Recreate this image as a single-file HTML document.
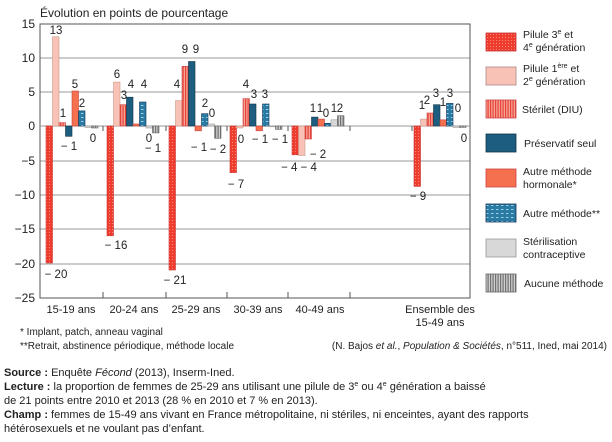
<!DOCTYPE html>
<html><head><meta charset="utf-8"><style>
body{margin:0;background:#fff;width:612px;height:437px;overflow:hidden}
svg{font-family:"Liberation Sans",sans-serif}
.t{font-size:11px;fill:#222}
.l{font-size:11.5px;fill:#222;text-anchor:middle}
</style></head><body>
<svg width="612" height="437" viewBox="0 0 612 437">
<defs>
<pattern id="red" width="3" height="3" patternUnits="userSpaceOnUse"><rect width="3" height="3" fill="#ee3d2e"/><rect x="1" y="1" width="1" height="1" fill="#f98a78"/></pattern>
<pattern id="diu" width="2.5" height="3" patternUnits="userSpaceOnUse"><rect width="2.5" height="3" fill="#f5a494"/><rect width="1.2" height="3" fill="#e8423a"/></pattern>
<pattern id="bdot" width="5" height="4" patternUnits="userSpaceOnUse"><rect width="5" height="4" fill="#2a7ba3"/><rect x="1" y="1" width="2.5" height="1" fill="#9ed0e6"/></pattern>
<pattern id="grey" width="2.5" height="3" patternUnits="userSpaceOnUse"><rect width="2.5" height="3" fill="#d0d0d0"/><rect width="1.2" height="3" fill="#707070"/></pattern>
</defs>
<text x="40" y="17" class="t" style="font-size:12px">Évolution en points de pourcentage</text>
<g stroke="#999" stroke-width="1">
<line x1="40" y1="24" x2="470" y2="24"/><line x1="40" y1="58" x2="470" y2="58"/><line x1="40" y1="92" x2="470" y2="92"/>
<line x1="40" y1="161" x2="470" y2="161"/><line x1="40" y1="195" x2="470" y2="195"/><line x1="40" y1="229" x2="470" y2="229"/><line x1="40" y1="264" x2="470" y2="264"/>
</g>
<g stroke="#555" stroke-width="1" fill="none">
<rect x="40" y="24" width="430" height="274"/>
<line x1="40" y1="126" x2="470" y2="126" stroke="#999"/>
<line x1="103" y1="126" x2="103" y2="131"/><line x1="166" y1="126" x2="166" y2="131"/><line x1="227" y1="126" x2="227" y2="131"/><line x1="288" y1="126" x2="288" y2="131"/><line x1="350" y1="126" x2="350" y2="131"/><line x1="412" y1="126" x2="412" y2="131"/>
<line x1="103" y1="292" x2="103" y2="298"/><line x1="166" y1="292" x2="166" y2="298"/><line x1="227" y1="292" x2="227" y2="298"/><line x1="288" y1="292" x2="288" y2="298"/><line x1="350" y1="292" x2="350" y2="298"/>
</g>
<g class="t" text-anchor="end" style="font-size:12px">
<text x="35" y="28">15</text><text x="35" y="62">10</text><text x="35" y="96">5</text><text x="35" y="130">0</text>
<text x="35" y="165">−5</text><text x="35" y="199">−10</text><text x="35" y="233">−15</text><text x="35" y="268">−20</text><text x="35" y="302">−25</text>
</g>
<g stroke-width="0.6">
<!-- G1 -->
<rect x="46" y="126" width="6.5" height="137" fill="url(#red)" stroke="#c33"/>
<rect x="52.5" y="36.8" width="6.5" height="89.2" fill="#f8c3b6" stroke="#c98"/>
<rect x="59" y="122.6" width="6.5" height="3.4" fill="url(#diu)" stroke="#c44"/>
<rect x="65.5" y="126" width="6.5" height="10.3" fill="#1d5e80" stroke="#134"/>
<rect x="72" y="91" width="6.5" height="35" fill="#f4704e" stroke="#c44"/>
<rect x="78.5" y="110.9" width="6.5" height="15.1" fill="url(#bdot)" stroke="#135"/>
<rect x="85" y="126" width="6.5" height="1.4" fill="#d8d8d8" stroke="#999"/>
<rect x="91.5" y="126" width="6.5" height="2" fill="url(#grey)" stroke="#666"/>
<!-- G2 -->
<rect x="107" y="126" width="6.5" height="109.8" fill="url(#red)" stroke="#c33"/>
<rect x="113.5" y="82.1" width="6.5" height="43.9" fill="#f8c3b6" stroke="#c98"/>
<rect x="120" y="104.7" width="6.5" height="21.3" fill="url(#diu)" stroke="#c44"/>
<rect x="126.5" y="97.2" width="6.5" height="28.8" fill="#1d5e80" stroke="#134"/>
<rect x="133" y="124" width="6.5" height="2" fill="#f4704e" stroke="#c44"/>
<rect x="139.5" y="102" width="6.5" height="24" fill="url(#bdot)" stroke="#135"/>
<rect x="146" y="126" width="6.5" height="2" fill="#d8d8d8" stroke="#999"/>
<rect x="152.5" y="126" width="6.5" height="6.9" fill="url(#grey)" stroke="#666"/>
<!-- G3 -->
<rect x="169" y="126" width="6.5" height="144" fill="url(#red)" stroke="#c33"/>
<rect x="175.5" y="100.6" width="6.5" height="25.4" fill="#f8c3b6" stroke="#c98"/>
<rect x="182" y="66.3" width="6.5" height="59.7" fill="url(#diu)" stroke="#c44"/>
<rect x="188.5" y="61.5" width="6.5" height="64.5" fill="#1d5e80" stroke="#134"/>
<rect x="195" y="126" width="6.5" height="4.8" fill="#f4704e" stroke="#c44"/>
<rect x="201.5" y="113.7" width="6.5" height="12.3" fill="url(#bdot)" stroke="#135"/>
<rect x="208" y="124" width="6.5" height="2" fill="#d8d8d8" stroke="#999"/>
<rect x="214.5" y="126" width="6.5" height="12.3" fill="url(#grey)" stroke="#666"/>
<!-- G4 -->
<rect x="230" y="126" width="6.5" height="46.6" fill="url(#red)" stroke="#c33"/>
<rect x="236.5" y="126" width="6.5" height="2" fill="#f8c3b6" stroke="#c98"/>
<rect x="243" y="98.6" width="6.5" height="27.4" fill="url(#diu)" stroke="#c44"/>
<rect x="249.5" y="104" width="6.5" height="22" fill="#1d5e80" stroke="#134"/>
<rect x="256" y="126" width="6.5" height="4.8" fill="#f4704e" stroke="#c44"/>
<rect x="262.5" y="104" width="6.5" height="22" fill="url(#bdot)" stroke="#135"/>
<rect x="269" y="126" width="6.5" height="0.8" fill="#d8d8d8" stroke="#999"/>
<rect x="275.5" y="126" width="6.5" height="3.4" fill="url(#grey)" stroke="#666"/>
<!-- G5 -->
<rect x="292" y="126" width="6.5" height="28.8" fill="url(#red)" stroke="#c33"/>
<rect x="298.5" y="126" width="6.5" height="29.5" fill="#f8c3b6" stroke="#c98"/>
<rect x="305" y="126" width="6.5" height="13" fill="url(#diu)" stroke="#c44"/>
<rect x="311.5" y="117.1" width="6.5" height="8.9" fill="#1d5e80" stroke="#134"/>
<rect x="318" y="119.1" width="6.5" height="6.9" fill="#f4704e" stroke="#c44"/>
<rect x="324.5" y="123.3" width="6.5" height="2.7" fill="url(#bdot)" stroke="#135"/>
<rect x="331" y="119.8" width="6.5" height="6.2" fill="#d8d8d8" stroke="#999"/>
<rect x="337.5" y="115.7" width="6.5" height="10.3" fill="url(#grey)" stroke="#666"/>
<!-- G6 -->
<rect x="414" y="126" width="6.5" height="60.4" fill="url(#red)" stroke="#c33"/>
<rect x="420.5" y="119.1" width="6.5" height="6.9" fill="#f8c3b6" stroke="#c98"/>
<rect x="427" y="113" width="6.5" height="13" fill="url(#diu)" stroke="#c44"/>
<rect x="433.5" y="104.7" width="6.5" height="21.3" fill="#1d5e80" stroke="#134"/>
<rect x="440" y="119.8" width="6.5" height="6.2" fill="#f4704e" stroke="#c44"/>
<rect x="446.5" y="103.4" width="6.5" height="22.6" fill="url(#bdot)" stroke="#135"/>
<rect x="453" y="126" width="6.5" height="1.4" fill="#d8d8d8" stroke="#999"/>
<rect x="459.5" y="126" width="6.5" height="1.4" fill="url(#grey)" stroke="#666"/>
</g>
<g class="l">
<text x="56" y="278">− 20</text><text x="56" y="34">13</text><text x="63" y="117">1</text><text x="69" y="150">− 1</text><text x="75" y="88">5</text><text x="82" y="107">2</text><text x="93" y="142">0</text>
<text x="116" y="249">− 16</text><text x="117" y="78">6</text><text x="124" y="99">3</text><text x="131" y="88">4</text><text x="144" y="88">4</text><text x="149" y="142">0</text><text x="153" y="152">− 1</text>
<text x="175" y="284">− 21</text><text x="177" y="88">4</text><text x="185" y="53">9</text><text x="196" y="53">9</text><text x="199" y="151">− 1</text><text x="205" y="107">2</text><text x="212" y="117">0</text><text x="218" y="153">− 2</text>
<text x="236" y="188">− 7</text><text x="241" y="143">0</text><text x="246" y="88">4</text><text x="254" y="98">3</text><text x="265" y="98">3</text><text x="260" y="143">− 1</text><text x="280" y="143">− 1</text>
<text x="299" y="171">− 4 − 4</text><text x="318" y="158">− 2</text><text x="313" y="112">1</text><text x="320" y="112">1</text><text x="326" y="117">0</text><text x="334" y="112">1</text><text x="340" y="112">2</text>
<text x="418" y="200">− 9</text><text x="422" y="109">1</text><text x="427" y="104">2</text><text x="436" y="97">3</text><text x="443" y="106">1</text><text x="450" y="97">3</text><text x="458" y="112">0</text><text x="464" y="142">0</text>
</g>
<g class="t" text-anchor="middle" style="font-size:11px">
<text x="71" y="313">15-19 ans</text><text x="134" y="313">20-24 ans</text><text x="196" y="313">25-29 ans</text><text x="258" y="313">30-39 ans</text><text x="320" y="313">40-49 ans</text>
<text x="440" y="313">Ensemble des</text><text x="440" y="326">15-49 ans</text>
</g>
<!-- legend -->
<g stroke-width="0.8">
<rect x="486" y="33" width="30" height="18" fill="url(#red)" stroke="#c33"/>
<rect x="486" y="67" width="30" height="18" fill="#f8c3b6" stroke="#a88"/>
<rect x="486" y="100" width="30" height="18" fill="url(#diu)" stroke="#c44"/>
<rect x="486" y="134" width="30" height="18" fill="#1d5e80" stroke="#134"/>
<rect x="486" y="169" width="30" height="18" fill="#f4704e" stroke="#c44"/>
<rect x="486" y="204" width="30" height="18" fill="url(#bdot)" stroke="#135"/>
<rect x="486" y="239" width="30" height="18" fill="#d8d8d8" stroke="#999"/>
<rect x="486" y="274" width="30" height="18" fill="url(#grey)" stroke="#666"/>
</g>
<g class="t" style="font-size:10.5px">
<text x="523" y="38">Pilule 3<tspan font-size="7" dy="-4">e</tspan><tspan dy="4"> et</tspan></text>
<text x="523" y="51">4<tspan font-size="7" dy="-4">e</tspan><tspan dy="4"> génération</tspan></text>
<text x="523" y="72">Pilule 1<tspan font-size="7" dy="-4">ère</tspan><tspan dy="4"> et</tspan></text>
<text x="523" y="85">2<tspan font-size="7" dy="-4">e</tspan><tspan dy="4"> génération</tspan></text>
<text x="522" y="113">Stérilet (DIU)</text>
<text x="524" y="147">Préservatif seul</text>
<text x="523" y="175">Autre méthode</text>
<text x="523" y="188">hormonale*</text>
<text x="523" y="217">Autre méthode**</text>
<text x="523" y="245">Stérilisation</text>
<text x="523" y="258">contraceptive</text>
<text x="524" y="287">Aucune méthode</text>
</g>
<g class="t" style="font-size:10px">
<text x="20" y="335">* Implant, patch, anneau vaginal</text>
<text x="20" y="349">**Retrait, abstinence périodique, méthode locale</text>
<text x="607" y="349" text-anchor="end">(N. Bajos <tspan font-style="italic">et al.</tspan>, <tspan font-style="italic">Population &amp; Sociétés</tspan>, n°511, Ined, mai 2014)</text>
</g>
<g class="t" style="font-size:11px">
<text x="4" y="376"><tspan font-weight="bold">Source :</tspan> Enquête <tspan font-style="italic">Fécond</tspan> (2013), Inserm-Ined.</text>
<text x="4" y="390"><tspan font-weight="bold">Lecture :</tspan> la proportion de femmes de 25-29 ans utilisant une pilule de 3<tspan font-size="7" dy="-4">e</tspan><tspan dy="4"> ou 4</tspan><tspan font-size="7" dy="-4">e</tspan><tspan dy="4"> génération a baissé</tspan></text>
<text x="4" y="404">de 21 points entre 2010 et 2013 (28 % en 2010 et 7 % en 2013).</text>
<text x="4" y="418"><tspan font-weight="bold">Champ :</tspan> femmes de 15-49 ans vivant en France métropolitaine, ni stériles, ni enceintes, ayant des rapports</text>
<text x="4" y="432">hétérosexuels et ne voulant pas d’enfant.</text>
</g>
</svg>
</body></html>
